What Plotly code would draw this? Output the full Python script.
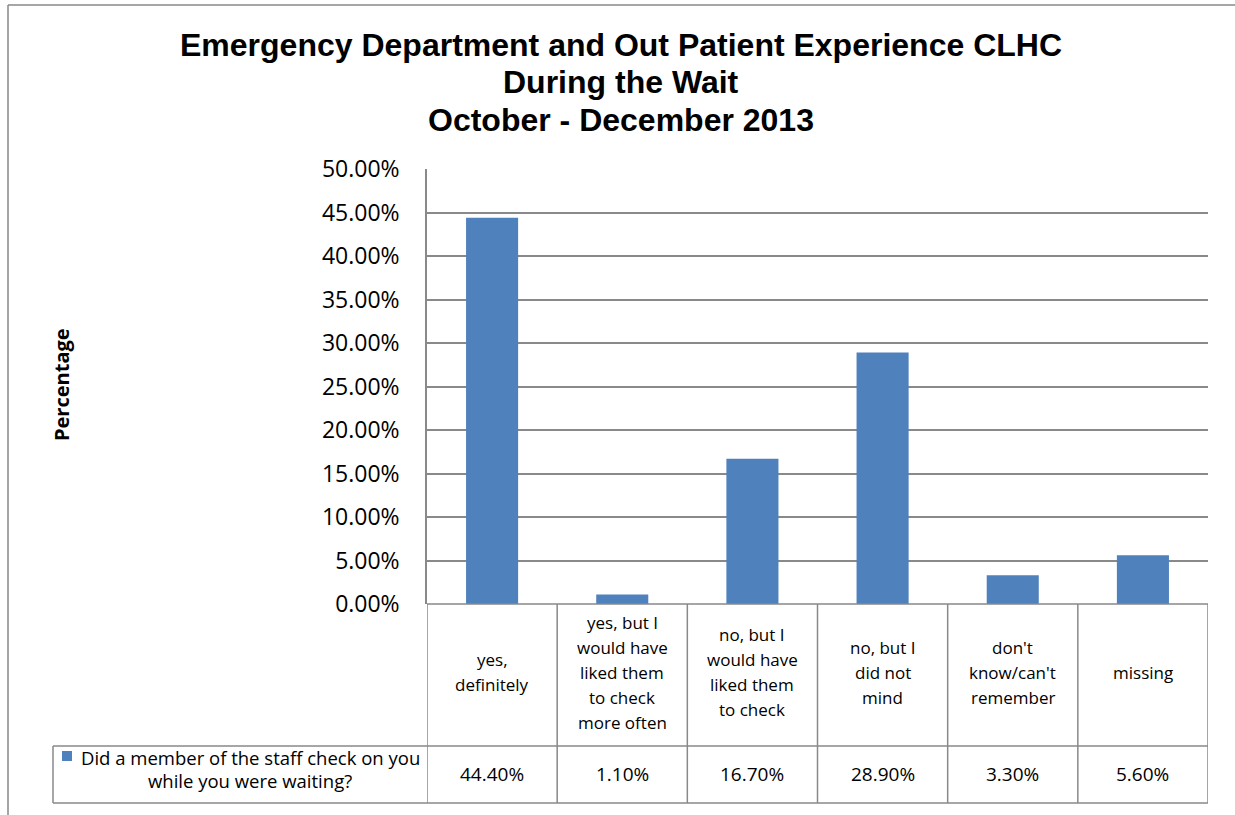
import plotly.graph_objects as go

categories = [
    "yes,<br>definitely",
    "yes, but I<br>would have<br>liked them<br>to check<br>more often",
    "no, but I<br>would have<br>liked them<br>to check",
    "no, but I<br>did not<br>mind",
    "don't<br>know/can't<br>remember",
    "missing",
]
values = [0.444, 0.011, 0.167, 0.289, 0.033, 0.056]
series_name = "Did a member of the staff check on you<br>while you were waiting?"
title_lines = [
    "Emergency Department and Out Patient Experience CLHC",
    "During the Wait",
    "October - December 2013",
]
y_title = "Percentage"

W, H = 1235, 815
BAR = "#4F81BD"
GRID = "#898989"
TXT_FONT = "Open Sans"


def px(x):
    return x / W


def py(y):
    return 1 - y / H


x_idx = list(range(len(categories)))

fig = go.Figure()
fig.add_trace(go.Bar(x=x_idx, y=values, marker=dict(color=BAR, line=dict(width=0)),
                     showlegend=False, hoverinfo="skip"))

PL, PR, PT, PB = 427, 1208, 169, 604
TABLE_MID, TABLE_BOT, LEG_LEFT = 746, 803, 53

fig.update_layout(
    width=W, height=H,
    margin=dict(l=0, r=0, t=0, b=0),
    paper_bgcolor="white", plot_bgcolor="white",
    bargap=0.6,
    xaxis=dict(domain=[px(PL), px(PR)], range=[-0.5, len(categories) - 0.5],
               showticklabels=False, showgrid=False, zeroline=False, showline=False,
               ticks="", automargin=False, fixedrange=True),
    yaxis=dict(domain=[py(PB), py(PT)], range=[0, 0.5], dtick=0.05, tickformat=".2%",
               showgrid=True, gridcolor=GRID, gridwidth=1.5, zeroline=False,
               showline=True, linecolor=GRID, linewidth=1.5, ticks="",
               ticklabelstandoff=21,
               tickfont=dict(family=TXT_FONT, size=23, color="black"), automargin=False,
               fixedrange=True),
    font=dict(family=TXT_FONT, color="black"),
)

shapes = []
line = dict(color=GRID, width=1.5)
# outer chart border (top and left)
shapes.append(dict(type="line", xref="paper", yref="paper", x0=px(8), x1=px(1235), y0=py(5), y1=py(5), line=line))
shapes.append(dict(type="line", xref="paper", yref="paper", x0=px(8), x1=px(8), y0=py(5), y1=py(815), line=line))
# table horizontal lines
shapes.append(dict(type="line", xref="paper", yref="paper", x0=px(PL), x1=px(PR), y0=py(PB), y1=py(PB), line=line))
shapes.append(dict(type="line", xref="paper", yref="paper", x0=px(LEG_LEFT), x1=px(PR), y0=py(TABLE_MID), y1=py(TABLE_MID), line=line))
shapes.append(dict(type="line", xref="paper", yref="paper", x0=px(LEG_LEFT), x1=px(PR), y0=py(TABLE_BOT), y1=py(TABLE_BOT), line=line))
shapes.append(dict(type="line", xref="paper", yref="paper", x0=px(LEG_LEFT), x1=px(LEG_LEFT), y0=py(TABLE_MID), y1=py(TABLE_BOT), line=line))
# column separators through the x axis
for k in range(len(categories) + 1):
    shapes.append(dict(type="line", xref="x", yref="paper", x0=k - 0.5, x1=k - 0.5,
                       y0=py(PB), y1=py(TABLE_BOT), line=line))
# legend key
shapes.append(dict(type="rect", xref="paper", yref="paper", x0=px(62), x1=px(72), y0=py(761), y1=py(751),
                   fillcolor=BAR, line=dict(width=0)))

annotations = []
LINE_H = 25
for i, (c, v) in enumerate(zip(categories, values)):
    parts = c.split("<br>")
    center = 672
    start = center - (len(parts) - 1) * LINE_H / 2
    for j, part in enumerate(parts):
        annotations.append(dict(x=i, xref="x", y=py(start + j * LINE_H), yref="paper", text=part,
                                showarrow=False, xanchor="center", yanchor="middle",
                                font=dict(family=TXT_FONT, size=17, color="black")))
    annotations.append(dict(x=i, xref="x", y=py(774), yref="paper", text=f"{v * 100:.2f}%", showarrow=False,
                            xanchor="center", yanchor="middle",
                            font=dict(family=TXT_FONT, size=19, color="black")))
for j, part in enumerate(series_name.split("<br>")):
    annotations.append(dict(x=px(250), xref="paper", y=py(757 + j * 23), yref="paper", text=part,
                            showarrow=False, xanchor="center", yanchor="middle",
                            font=dict(family=TXT_FONT, size=18.5, color="black")))
for ty, t in zip([45, 82, 120], title_lines):
    annotations.append(dict(x=px(621), xref="paper", y=py(ty), yref="paper", text=f"<b>{t}</b>", showarrow=False,
                            xanchor="center", yanchor="middle",
                            font=dict(family="Liberation Sans", size=32, color="black")))
annotations.append(dict(x=px(62), xref="paper", y=py(385), yref="paper", text=f"<b>{y_title}</b>", showarrow=False,
                        textangle=-90, xanchor="center", yanchor="middle",
                        font=dict(family=TXT_FONT, size=20, color="black")))

fig.update_layout(shapes=shapes, annotations=annotations)
fig.write_html("out.html", config={"displayModeBar": False},
               post_script="document.body.style.margin='0px';")
